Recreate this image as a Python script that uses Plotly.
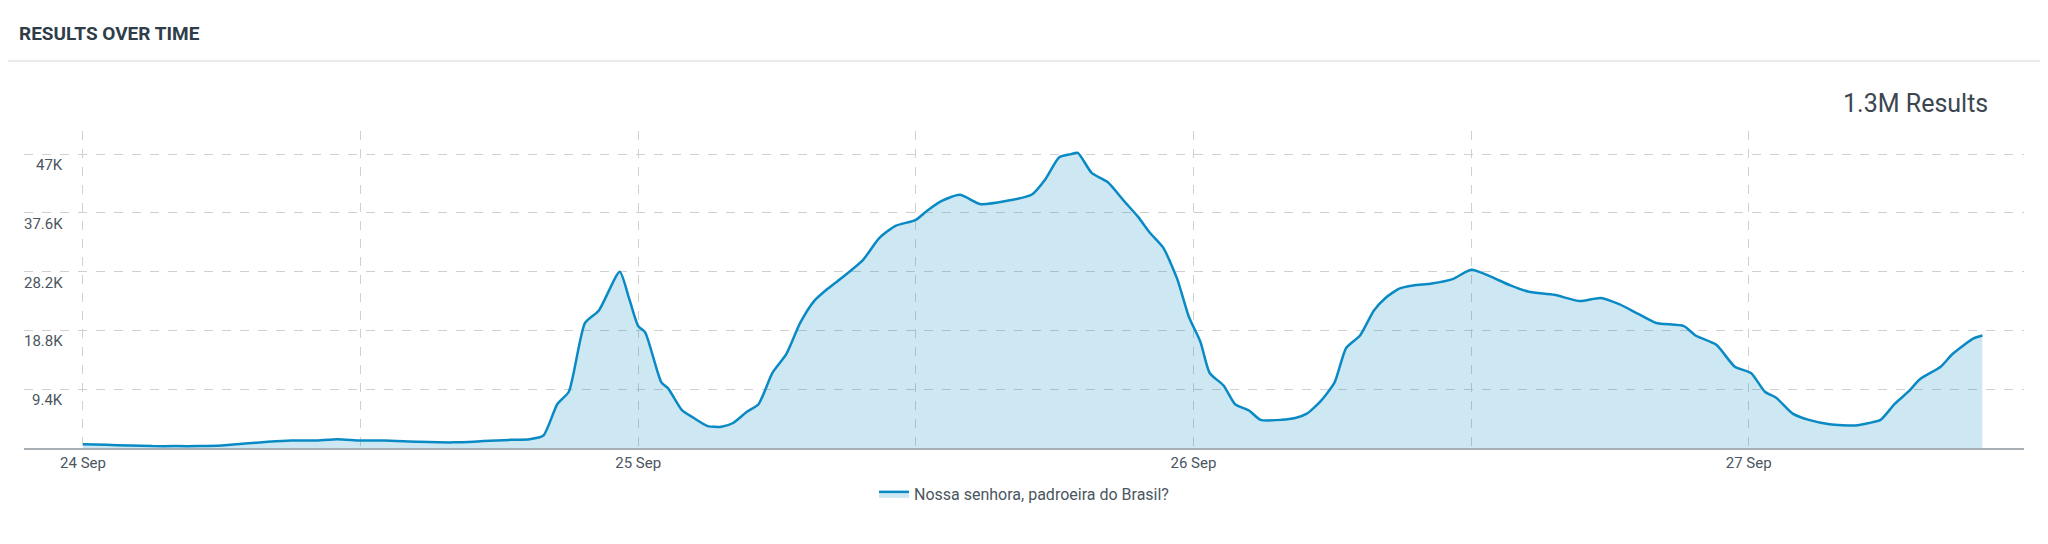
import plotly.graph_objects as go
import pandas as pd

hours = [0,1,2,3,4,5,6,7,8,9,10,11,12,13,14.5,16,17.3,18.5,19.3,19.9,20.5,21,21.7,22.3,23.2,23.6,24,24.3,
         25,25.3,25.9,26.4,27,27.6,28.1,28.7,29.2,29.8,30.4,31,31.6,32.2,32.9,33.7,34.4,35.1,36,36.5,37.1,37.9,
         38.8,39.9,41,41.6,42.2,42.7,43,43.6,44.3,45,45.6,46.1,46.7,47.3,47.8,
         48.3,48.7,49.3,49.8,50.4,50.9,51.8,52.4,52.9,53.5,54.1,54.6,55.2,55.8,56.3,56.9,57.5,58.3,59.2,60,
         60.8,61.7,62.5,63.6,64.7,65.6,66.4,67.2,68,69.2,69.7,70.6,71.4,
         72.1,72.7,73.2,73.9,74.6,75.5,76.6,77.2,77.7,78.3,78.9,79.4,80.3,80.8,81.7,82.1]
values = [0.6,0.5,0.4,0.3,0.3,0.3,0.4,0.7,1.0,1.2,1.2,1.4,1.2,1.2,1.0,0.9,1.1,1.3,1.4,2.0,7.0,9.0,20.0,22.0,28.2,24.0,19.5,18.5,
          10.5,9.5,6.0,4.8,3.5,3.4,4.0,5.8,7.0,12.0,15.0,20.0,23.5,25.5,27.5,30.0,33.5,35.5,36.5,38.0,39.5,40.5,
          39.0,39.5,40.5,43.0,46.5,47.0,47.2,44.0,42.5,39.5,37.0,34.5,32.0,27.0,21.0,
          17.0,12.0,10.0,7.0,6.0,4.5,4.5,4.8,5.5,7.5,10.5,16.0,18.0,22.0,24.0,25.5,26.0,26.3,27.0,28.5,
          27.5,26.0,25.0,24.5,23.5,24.0,23.0,21.5,20.0,19.5,18.0,16.5,13.0,
          12.0,9.0,8.0,5.5,4.5,3.8,3.6,4.0,4.5,7.0,9.0,11.0,13.0,15.0,17.5,18.0]
ytick_vals = [9400, 18800, 28200, 37600, 47000]
ytick_text = ["9.4K", "18.8K", "28.2K", "37.6K", "47K"]
series_name = "Nossa senhora, padroeira do Brasil?"

t0 = pd.Timestamp("2023-09-24")
x = [t0 + pd.Timedelta(hours=h) for h in hours]
y = [v * 1000 for v in values]

fig = go.Figure(go.Scatter(x=x, y=y, mode="lines", line=dict(color="#0a8ac4", width=2.5, shape="spline", smoothing=0.6),
                           fill="tozeroy", fillcolor="rgba(10,138,196,0.2)", name=series_name, showlegend=True))

grid = dict(showgrid=True, gridcolor="#d0d0d0", griddash="dash", gridwidth=1)
fig.update_layout(
    width=2048, height=544, paper_bgcolor="white", plot_bgcolor="white",
    margin=dict(l=16, r=32, t=123, b=104),
    font=dict(family="Roboto", color="#4a5661", size=14),
    xaxis=dict(range=[t0 - pd.Timedelta(hours=2.55), t0 + pd.Timedelta(hours=83.9)],
               tickformat="%-d %b", dtick=86400000, tick0=t0, **grid, automargin=False,
               minor=dict(dtick=43200000, showgrid=True, gridcolor="#d0d0d0", griddash="dash"),
               showline=True, linecolor="#a9b0b5", linewidth=2, ticks="", tickfont=dict(size=15), zeroline=False),
    yaxis=dict(range=[0, 50700], tickvals=ytick_vals, showticklabels=False, **grid, zeroline=False, automargin=False),
    legend=dict(orientation="h", x=0.5, xanchor="center", y=-0.145, yanchor="middle", font=dict(size=16, color="#4a5661")),
    showlegend=True,
)
for v, tx in zip(ytick_vals, ytick_text):
    fig.add_annotation(x=0.0205, xref="paper", y=v, yref="y", text=tx, showarrow=False,
                       xanchor="right", yanchor="top", font=dict(size=15, color="#4a5661"))
fig.add_annotation(x=-0.0035, xref="paper", y=1.309, yref="paper", text="<b>RESULTS OVER TIME</b>", showarrow=False,
                   xanchor="left", yanchor="middle", font=dict(size=19, color="#2f3d48"))
fig.add_annotation(x=0.983, xref="paper", y=1.088, yref="paper", text="1.3M Results", showarrow=False,
                   xanchor="right", yanchor="middle", font=dict(size=25, color="#3c4650"))
fig.add_shape(type="line", xref="paper", yref="paper", x0=-0.02, x1=1.02, y0=1.2208, y1=1.2208,
              line=dict(color="#e8ecef", width=2))
fig.write_html("out.html")
